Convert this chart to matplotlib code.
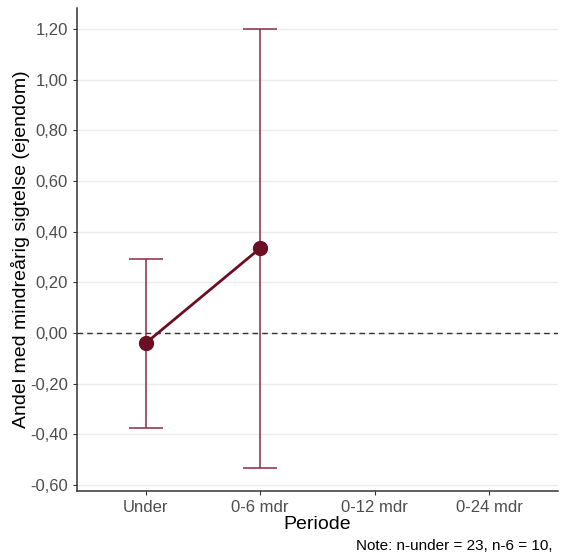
import matplotlib
matplotlib.use("Agg")
import matplotlib.pyplot as plt
from matplotlib.ticker import FuncFormatter

plt.rcParams['font.family'] = ['Liberation Sans', 'DejaVu Sans']

periods = ['Under', '0-6 mdr', '0-12 mdr', '0-24 mdr']
est = [-0.04, 0.335]
lower = [-0.375, -0.533]
upper = [0.293, 1.20]
yticks = [-0.6, -0.4, -0.2, 0.0, 0.2, 0.4, 0.6, 0.8, 1.0, 1.2]

fig = plt.figure(figsize=(5.61, 5.57), dpi=100)
ax = fig.add_axes([0.137, 0.1185, 0.858, 0.867])

x = list(range(len(est)))
err = [[e - l for e, l in zip(est, lower)], [u - e for e, u in zip(est, upper)]]

ax.axhline(0, color='#333333', linestyle=(0, (4, 3)), linewidth=1, zorder=1)
ax.errorbar(x, est, yerr=err, fmt='none', ecolor='#8c2a42', elinewidth=1.1,
            capsize=12, capthick=1.1, zorder=2)
ax.plot(x, est, color='#6b0f24', linewidth=2, marker='o', markersize=10, zorder=3)

ax.set_xlim(-0.6, 3.6)
ax.set_ylim(-0.623, 1.282)
ax.set_xticks(range(len(periods)))
ax.set_xticklabels(periods)
ax.set_yticks(yticks)
ax.yaxis.set_major_formatter(FuncFormatter(lambda v, p: f"{v:.2f}".replace('.', ',')))

ax.grid(axis='y', color='#ebebeb', linewidth=1)
ax.set_axisbelow(True)
for s in ['top', 'right']:
    ax.spines[s].set_visible(False)
for s in ['left', 'bottom']:
    ax.spines[s].set_color('#333333')
    ax.spines[s].set_linewidth(1.1)
ax.tick_params(colors='#333333', labelcolor='#4d4d4d', labelsize=12, length=3)

ax.set_xlabel('Periode', fontsize=14, labelpad=1)
ax.set_ylabel('Andel med mindreårig sigtelse (ejendom)', fontsize=14, labelpad=0)

fig.text(0.985, 0.008, 'Note: n-under = 23, n-6 = 10,', ha='right', va='bottom', fontsize=11)

fig.savefig('out.png', dpi=100)
